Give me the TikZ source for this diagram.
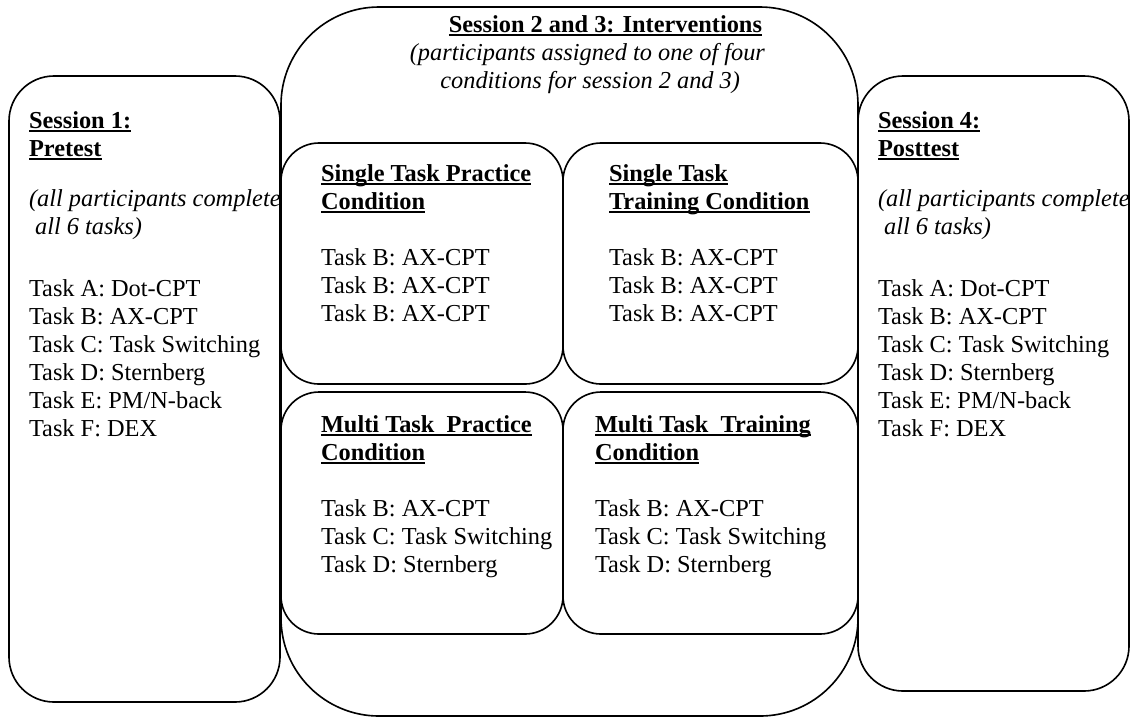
\documentclass[tikz,border=0pt]{standalone}
\usepackage{fontspec}
\setmainfont{Liberation Serif}
\def\px{0.4928pt}
\newcommand\wul[1]{\setbox0\hbox{#1}\rlap{\rule[-1.9pt]{\wd0}{0.9pt}}\box0}
\newcommand\hd[1]{\wul{\textbf{#1}}}
\tikzset{
  bx/.style={draw, line width=0.8pt, anchor=north west, inner sep=0pt, outer sep=0pt},
  sidebox/.style={bx, rounded corners=45*\px},
  midbox/.style={bx, rounded corners=98*\px},
  condbox/.style={bx, rounded corners=38*\px},
  txt/.style={anchor=base west, inner sep=0pt, outer sep=0pt, font=\fontsize{12}{13.8}\selectfont},
  txtr/.style={txt, anchor=base east}
}
\begin{document}
\begin{tikzpicture}[x=\px, y=-\px]
\useasboundingbox (0,0) rectangle (1131,717);
% boxes
\node[midbox, minimum width=577*\px, minimum height=709*\px] (mid) at (281,7) {};
\node[sidebox, minimum width=271*\px, minimum height=626*\px] (pre) at (9,76) {};
\node[sidebox, minimum width=271*\px, minimum height=615*\px] (post) at (858,76) {};
\node[condbox, minimum width=282*\px, minimum height=241*\px] (stp) at (281,143) {};
\node[condbox, minimum width=295*\px, minimum height=241*\px] (stt) at (563,143) {};
\node[condbox, minimum width=282*\px, minimum height=242*\px] (mtp) at (281,392) {};
\node[condbox, minimum width=295*\px, minimum height=242*\px] (mtt) at (563,392) {};
% middle heading
\node[txtr] (midtitle) at (762,32) {\hd{Session 2 and 3: Interventions}};
\node[txtr] (midsub1) at (765,60) {\textit{(participants assigned to one of four}};
\node[txtr] (midsub2) at (740,88) {\textit{conditions for session 2 and 3)}};
% session 1
\node[txt] (prehd) at (29,128) {\begin{tabular}[t]{@{}l@{}}
\hd{Session 1:}\\
\hd{Pretest}
\end{tabular}};
\node[txt] (preit) at (29,206) {\begin{tabular}[t]{@{}l@{}}
\textit{(all participants complete}\\
\textit{\ all 6 tasks)}
\end{tabular}};
\node[txt] (pretasks) at (29,296) {\begin{tabular}[t]{@{}l@{}}
Task A: Dot-CPT\\
Task B: AX-CPT\\
Task C: Task Switching\\
Task D: Sternberg\\
Task E: PM/N-back\\
Task F: DEX
\end{tabular}};
% session 4
\node[txt] (posthd) at (878,128) {\begin{tabular}[t]{@{}l@{}}
\hd{Session 4:}\\
\hd{Posttest}
\end{tabular}};
\node[txt] (postit) at (878,206) {\begin{tabular}[t]{@{}l@{}}
\textit{(all participants complete}\\
\textit{\ all 6 tasks)}
\end{tabular}};
\node[txt] (posttasks) at (878,296) {\begin{tabular}[t]{@{}l@{}}
Task A: Dot-CPT\\
Task B: AX-CPT\\
Task C: Task Switching\\
Task D: Sternberg\\
Task E: PM/N-back\\
Task F: DEX
\end{tabular}};
% conditions
\node[txt] (stptxt) at (321,181) {\begin{tabular}[t]{@{}l@{}}
\hd{Single Task Practice}\\
\hd{Condition}\\
\\
Task B: AX-CPT\\
Task B: AX-CPT\\
Task B: AX-CPT
\end{tabular}};
\node[txt] (stttxt) at (609,181) {\begin{tabular}[t]{@{}l@{}}
\hd{Single Task}\\
\hd{Training Condition}\\
\\
Task B: AX-CPT\\
Task B: AX-CPT\\
Task B: AX-CPT
\end{tabular}};
\node[txt] (mtptxt) at (321,432) {\begin{tabular}[t]{@{}l@{}}
\hd{Multi Task~ Practice}\\
\hd{Condition}\\
\\
Task B: AX-CPT\\
Task C: Task Switching\\
Task D: Sternberg
\end{tabular}};
\node[txt] (mtttxt) at (595,432) {\begin{tabular}[t]{@{}l@{}}
\hd{Multi Task~ Training}\\
\hd{Condition}\\
\\
Task B: AX-CPT\\
Task C: Task Switching\\
Task D: Sternberg
\end{tabular}};
\end{tikzpicture}
\end{document}
